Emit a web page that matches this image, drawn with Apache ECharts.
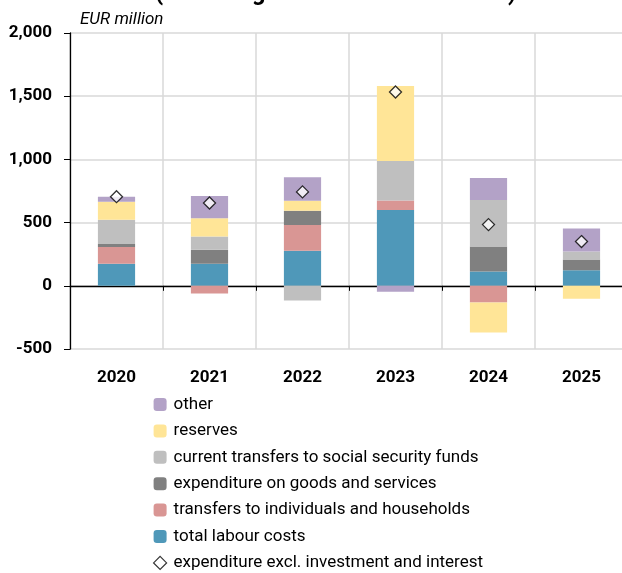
<!DOCTYPE html>
<html>
<head>
<meta charset="utf-8">
<script src="https://cdn.jsdelivr.net/npm/echarts@6/dist/echarts.min.js"></script>
<style>
  html, body { margin: 0; padding: 0; background: #fff; }
  #chart { width: 622px; height: 573px; }
</style>
</head>
<body>
<div id="chart"></div>
<script>
// Central government expenditure components, EUR million
const categories = ['2020', '2021', '2022', '2023', '2024', '2025'];
const labourCosts = [175, 175, 277, 600, 113, 124];
const transfersHouseholds = [132, -60, 205, 74, -132, 0];
const goodsServices = [23, 110, 111, 0, 197, 84];
const socialSecurity = [192, 105, -116, 314, 369, 63];
const reserves = [143, 145, 79, 592, -237, -103];
const other = [39, 175, 187, -47, 174, 182];
const expenditureTotal = [705, 655, 743, 1533, 484, 350];

const FONT = 'Roboto, "Liberation Sans", sans-serif';

const seriesDefs = [
  { name: 'total labour costs', data: labourCosts, color: '#4F98B9' },
  { name: 'transfers to individuals and households', data: transfersHouseholds, color: '#D99694' },
  { name: 'expenditure on goods and services', data: goodsServices, color: '#808080' },
  { name: 'current transfers to social security funds', data: socialSecurity, color: '#BFBFBF' },
  { name: 'reserves', data: reserves, color: '#FFE597' },
  { name: 'other', data: other, color: '#B3A2C7' }
];

const barSeries = seriesDefs.map(d => ({
  name: d.name,
  type: 'bar',
  stack: 'exp',
  xAxisIndex: 0,
  barWidth: '40%',
  itemStyle: { color: d.color },
  data: d.data
}));

const totalName = 'expenditure excl. investment and interest';

const chart = echarts.init(document.getElementById('chart'), null, { renderer: 'canvas' });
chart.setOption({
  animation: false,
  textStyle: { fontFamily: FONT },
  grid: { left: 70, right: -6, top: 33, bottom: 224, containLabel: false, outerBoundsMode: 'none' },
  graphic: [
    {
      type: 'text', left: 155, top: -18,
      style: { text: '(excluding intervention measures)', font: 'bold 23.5px ' + FONT, fill: '#000' }
    },
    {
      type: 'text', left: 80, top: 11,
      style: { text: 'EUR million', font: 'italic 17px ' + FONT, fill: '#000' }
    }
  ],
  legend: {
    orient: 'vertical',
    left: 148,
    top: 391,
    height: 200,
    itemWidth: 13,
    itemHeight: 13,
    itemGap: 9.4,
    textStyle: { fontFamily: FONT, fontSize: 17, lineHeight: 17, color: '#000', padding: [0, 0, 0, 2] },
    data: [
      { name: 'other' },
      { name: 'reserves' },
      { name: 'current transfers to social security funds' },
      { name: 'expenditure on goods and services' },
      { name: 'transfers to individuals and households' },
      { name: 'total labour costs' },
      { name: totalName, icon: 'diamond', itemStyle: { color: '#fff', borderColor: '#000', borderWidth: 1.2 } }
    ]
  },
  xAxis: [
    {
      type: 'category',
      data: categories,
      position: 'bottom',
      axisLine: { show: false, onZero: false },
      axisTick: { show: false },
      axisLabel: { color: '#000', fontSize: 17, fontWeight: 'bold', fontFamily: FONT, margin: 20 },
      splitLine: { show: true, lineStyle: { color: '#d9d9d9', width: 1.5 } }
    },
    {
      type: 'category',
      data: categories,
      position: 'bottom',
      axisLine: { show: true, onZero: true, lineStyle: { color: '#000', width: 1.3 } },
      axisTick: { show: true, length: 5, lineStyle: { color: '#000' } },
      axisLabel: { show: false },
      splitLine: { show: false }
    }
  ],
  yAxis: {
    type: 'value',
    min: -500,
    max: 2000,
    interval: 500,
    axisLine: { show: true, lineStyle: { color: '#000', width: 1.3 } },
    axisTick: { show: true, length: 6, lineStyle: { color: '#000' } },
    axisLabel: {
      color: '#000', fontSize: 17, fontWeight: 'bold', fontFamily: FONT, margin: 18,
      formatter: v => v.toLocaleString('en-US')
    },
    splitLine: { show: true, lineStyle: { color: '#d9d9d9', width: 1.5 } }
  },
  series: [
    ...barSeries,
    {
      name: totalName,
      type: 'scatter',
      xAxisIndex: 0,
      symbol: 'diamond',
      symbolSize: [12, 12],
      itemStyle: { color: '#fff', borderColor: '#000', borderWidth: 1.3 },
      z: 5,
      data: expenditureTotal
    }
  ]
});
</script>
</body>
</html>
